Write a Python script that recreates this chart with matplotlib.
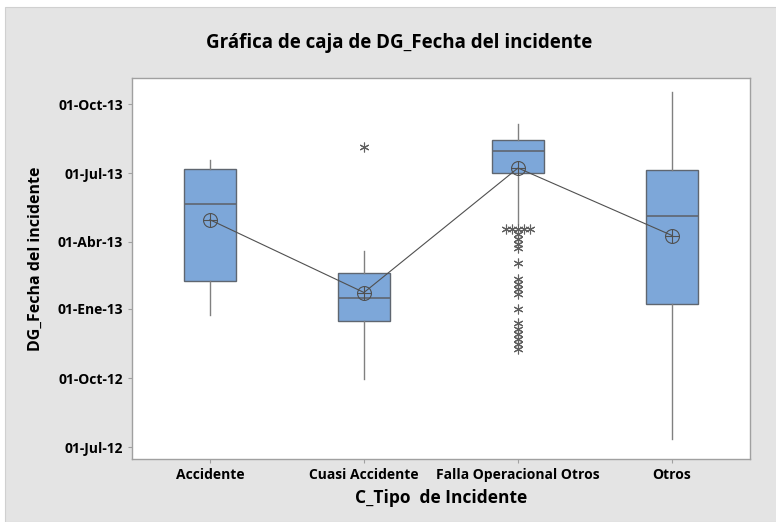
import numpy as np
import matplotlib.pyplot as plt
import matplotlib.dates as mdates
from datetime import datetime
from matplotlib.patches import Rectangle

plt.rcParams['font.family'] = ['Open Sans', 'DejaVu Sans']

categorias = ["Accidente", "Cuasi Accidente", "Falla Operacional Otros", "Otros"]

# resumen de cada caja (fechas)
bigote_inf = ["2012-12-24", "2012-09-30", "2013-04-24", "2012-07-12"]
q1 = ["2013-02-08", "2012-12-16", "2013-07-01", "2013-01-08"]
mediana = ["2013-05-21", "2013-01-16", "2013-07-31", "2013-05-05"]
q3 = ["2013-07-07", "2013-02-18", "2013-08-14", "2013-07-05"]
bigote_sup = ["2013-07-19", "2013-03-20", "2013-09-05", "2013-10-18"]
media = ["2013-04-30", "2013-01-23", "2013-07-08", "2013-04-09"]

atipicos = [
    [],
    ["2013-08-05"],
    ["2013-04-18", "2013-04-18", "2013-04-18", "2013-04-18", "2013-04-18",
     "2013-04-11", "2013-04-04", "2013-03-29", "2013-03-24", "2013-03-04",
     "2013-02-10", "2013-02-03", "2013-01-28", "2013-01-21", "2013-01-01",
     "2012-12-14", "2012-12-05", "2012-11-29", "2012-11-22", "2012-11-15",
     "2012-11-09"],
    [],
]

ticks_y = ["2012-07-01", "2012-10-01", "2013-01-01", "2013-04-01", "2013-07-01", "2013-10-01"]
etiquetas_y = ["01-Jul-12", "01-Oct-12", "01-Ene-13", "01-Abr-13", "01-Jul-13", "01-Oct-13"]


def d(s):
    return mdates.date2num(datetime.strptime(s, "%Y-%m-%d"))


fig = plt.figure(figsize=(7.76, 5.22), dpi=100, facecolor="white")
fondo = Rectangle((5 / 776, 0), 1, 1 - 7 / 522, transform=fig.transFigure,
                  facecolor="#e4e4e4", edgecolor="#d0d0d0", lw=0.8, zorder=-10)
fig.patches.append(fondo)
ax = fig.add_axes([132 / 776, 63 / 522, 618 / 776, 381 / 522])

pos = np.arange(1, len(categorias) + 1)
stats = []
for i in range(len(categorias)):
    stats.append(dict(whislo=d(bigote_inf[i]), q1=d(q1[i]), med=d(mediana[i]),
                      q3=d(q3[i]), whishi=d(bigote_sup[i]), fliers=[]))

ax.bxp(stats, positions=pos, widths=0.336, patch_artist=True, showfliers=False,
       showcaps=False,
       boxprops=dict(facecolor="#7da7d9", edgecolor="#5f6670", lw=1.0),
       medianprops=dict(color="#5f6670", lw=1.2),
       whiskerprops=dict(color="#808080", lw=1.0))

# atípicos (empates desplazados horizontalmente)
for i, lista in enumerate(atipicos):
    vals = [d(v) for v in lista]
    unicos, cuentas = np.unique(vals, return_counts=True)
    for v, c in zip(unicos, cuentas):
        offs = (np.arange(c) - (c - 1) / 2) * 0.04
        ax.plot(pos[i] + offs, [v] * c, linestyle="none", marker=(6, 2, 0),
                markersize=7, color="#606060", mew=0.8)

# medias y línea que las conecta
medias = [d(m) for m in media]
ax.plot(pos, medias, color="#505050", lw=0.8, zorder=4)
ax.plot(pos, medias, "o", ms=10, mfc="none", mec="#505050", mew=0.8, zorder=5)
ax.plot(pos, medias, "+", ms=10, color="#505050", mew=0.8, zorder=5)

ax.set_xlim(0.494, 4.506)
ax.set_ylim(d("2012-06-15"), d("2013-11-05"))
ax.set_xticks(pos)
ax.set_xticklabels(categorias, fontsize=10, fontweight="bold")
ax.set_yticks([d(t) for t in ticks_y])
ax.set_yticklabels(etiquetas_y, fontsize=10, fontweight="bold")
ax.tick_params(colors="#a0a0a0", labelcolor="black", length=3, width=0.8)
for s in ax.spines.values():
    s.set_color("#a0a0a0")
    s.set_linewidth(1.0)

ax.set_xlabel("C_Tipo  de Incidente", fontsize=12.5, fontweight="bold", labelpad=5)
ax.set_ylabel("DG_Fecha del incidente", fontsize=11.5, fontweight="bold")
ax.yaxis.set_label_coords(-0.142, 0.525)
fig.text(399 / 776, 1 - 43 / 522, "Gráfica de caja de DG_Fecha del incidente",
         ha="center", va="center", fontsize=13.5, fontweight="bold")

fig.savefig("out.png", dpi=100, facecolor=fig.get_facecolor())
